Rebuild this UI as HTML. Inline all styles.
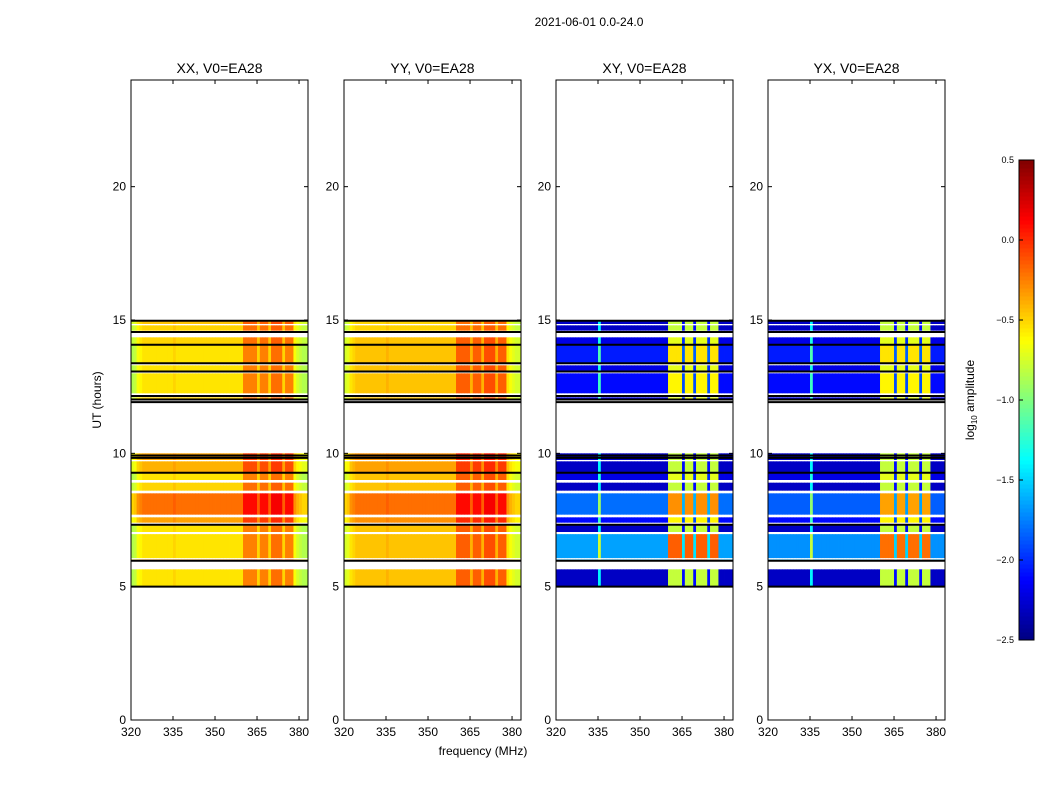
<!DOCTYPE html>
<html><head><meta charset="utf-8"><style>
body{margin:0;background:#fff;}
svg{display:block;font-family:"Liberation Sans",sans-serif;}
</style></head><body>
<svg id="fig" width="1050" height="800" viewBox="0 0 1050 800">
<rect width="1050" height="800" fill="#fff"/>
<text x="589" y="26" font-size="12" text-anchor="middle">2021-06-01 0.0-24.0</text>
<text x="483" y="755" font-size="12" text-anchor="middle">frequency (MHz)</text>
<text x="101" y="400" font-size="12" text-anchor="middle" transform="rotate(-90 101 400)">UT (hours)</text>
<g id="panels"></g>
<g id="cbar"></g>
<text x="974" y="400" font-size="12" text-anchor="middle" transform="rotate(-90 974 400)">log<tspan font-size="8" dy="3">10</tspan><tspan dy="-3"> amplitude</tspan></text>
</svg>
<script>
// ---- data ----
const panelTitles = ["XX, V0=EA28","YY, V0=EA28","XY, V0=EA28","YX, V0=EA28"];
const xTicks = [320,335,350,365,380];
const yTicks = [0,5,10,15,20];
const cbarTicks = [0.5,0.0,-0.5,-1.0,-1.5,-2.0,-2.5];
const bandStart = [5.0, 5.95, 6.07, 7.05, 7.4, 7.7, 8.6, 9.0, 9.3, 9.75, 12.0, 12.25, 13.05, 13.4, 14.1, 14.6, 14.85];
const bandEnd   = [5.65,6.02, 6.97, 7.3, 7.6, 8.5, 8.9, 9.25, 9.7, 10.0, 12.1, 13.0, 13.3, 14.05, 14.35, 14.8, 15.0];
const levelXX   = [-0.55,-0.3,-0.55,-0.55,-0.35,-0.2,-0.5,-0.55,-0.4,-0.35,-0.5,-0.55,-0.55,-0.55,-0.5,-0.5,-0.45];
const levelYY   = [-0.45,-0.3,-0.45,-0.45,-0.3,-0.2,-0.45,-0.45,-0.35,-0.3,-0.45,-0.45,-0.45,-0.45,-0.45,-0.5,-0.5];
const levelXY   = [-2.3,-1.6,-1.65,-2.3,-2.1,-1.8,-2.3,-2.2,-2.3,-2.3,-2.2,-2.1,-2.2,-2.05,-2.2,-2.3,-2.3];
const levelYX   = [-2.3,-1.6,-1.7,-2.3,-2.1,-1.85,-2.3,-2.2,-2.3,-2.3,-2.2,-2.1,-2.2,-2.05,-2.2,-2.3,-2.3];
const freqs = [];
for (let f = 320; f <= 383; f++) freqs.push(f);
const autoOffset = [
 -0.3,-0.25,-0.1,-0.05,
 0,0,0,0,0,0,0,0,0,0,0,
 0.05,
 0,0,0,0,0,0,0,0,0,0,0,0,0,0,0,0,0,0,0,0,0,0,0,0,
 0.3,0.3,0.3,0.3,0.3,
 0.05,
 0.3,0.3,0.3,
 0.05,
 0.35,0.35,0.35,0.35,
 0.05,
 0.3,0.3,0.3,
 -0.1,-0.2,
 -0.25,-0.3,-0.3,-0.3];
const crossOffset = [
 0,0,0,0,
 0,0,0,0,0,0,0,0,0,0,0,
 0.9,
 0,0,0,0,0,0,0,0,0,0,0,0,0,0,0,0,0,0,0,0,0,0,0,0,
 1.5,1.5,1.5,1.5,1.5,
 0.2,
 1.5,1.5,1.5,
 0.2,
 1.5,1.5,1.5,1.5,
 0.2,
 1.5,1.5,1.5,
 0,0,
 0,0,0,0];
const blackLines = [5.0,5.97,7.32,9.27,9.83,9.92,11.92,12.02,12.15,13.07,13.38,14.07,14.55,14.97];
// ---- layout ----
const panelX = [131,344,556,768], panelW = 177, plotTop = 80, plotBottom = 720;
const yScale = h => plotBottom - (h/24)*(plotBottom-plotTop);
const xScale = (p,f) => panelX[p] + (f-320)/(383.2-320)*panelW;
function jet(v){
  let t = Math.max(0,Math.min(1,(v+2.5)/3));
  const r = Math.max(0,Math.min(1,1.5-Math.abs(4*t-3)));
  const g = Math.max(0,Math.min(1,1.5-Math.abs(4*t-2)));
  const b = Math.max(0,Math.min(1,1.5-Math.abs(4*t-1)));
  return `rgb(${Math.round(r*255)},${Math.round(g*255)},${Math.round(b*255)})`;
}
const NS = "http://www.w3.org/2000/svg";
function mk(tag, attrs, parent){const e=document.createElementNS(NS,tag);for(const k in attrs)e.setAttribute(k,attrs[k]);parent.appendChild(e);return e;}
const panelsG = document.getElementById('panels');
const levels = [levelXX, levelYY, levelXY, levelYX];
for (let p=0;p<4;p++){
  const g = mk('g',{},panelsG);
  
  
  const offs = p<2 ? autoOffset : crossOffset;
  for (let b=0;b<bandStart.length;b++){
    const y0 = yScale(bandEnd[b]), y1 = yScale(bandStart[b]);
    for (let i=0;i<freqs.length;i++){
      const x0 = xScale(p,freqs[i]), x1 = Math.min(xScale(p,freqs[i]+1), panelX[p]+panelW);
      if (x0 >= panelX[p]+panelW) continue;
      const c = mk('rect',{x:x0,y:y0,width:x1-x0+0.4,height:y1-y0,fill:jet(levels[p][b]+offs[i])},g);
      
      
    }
  }
  for (const h of blackLines){
    const l = mk('line',{x1:panelX[p],x2:panelX[p]+panelW,y1:yScale(h),y2:yScale(h),stroke:'#000','stroke-width':2},g);
    
    
  }
  const fr = mk('rect',{x:panelX[p],y:plotTop,width:panelW,height:plotBottom-plotTop,fill:'none',stroke:'#000','stroke-width':1},g);
  
  
  const t = mk('text',{x:panelX[p]+panelW/2,y:73,'font-size':14,'text-anchor':'middle'},g);
  t.textContent = panelTitles[p];
  
  
  for (const v of xTicks){
    const x = xScale(p,v);
    mk('line',{x1:x,x2:x,y1:plotBottom,y2:plotBottom-4,stroke:'#000'},g);
    mk('line',{x1:x,x2:x,y1:plotTop,y2:plotTop+4,stroke:'#000'},g);
    const tl = mk('text',{x:x,y:plotBottom+16,'font-size':12,'text-anchor':'middle'},g);
    tl.textContent = v;
    
    
  }
  for (const v of yTicks){
    const y = yScale(v);
    mk('line',{x1:panelX[p],x2:panelX[p]+4,y1:y,y2:y,stroke:'#000'},g);
    mk('line',{x1:panelX[p]+panelW,x2:panelX[p]+panelW-4,y1:y,y2:y,stroke:'#000'},g);
    const tl = mk('text',{x:panelX[p]-5,y:y+4,'font-size':12,'text-anchor':'end'},g);
    tl.textContent = v;
    
    
  }
}
// colorbar
const cb = document.getElementById('cbar');
const cbX=1019, cbW=15, cbTop=160, cbBot=640;
const cbY = v => cbBot - (v+2.5)/3*(cbBot-cbTop);
for (let i=0;i<120;i++){
  const v0 = -2.5 + i*3/120;
  mk('rect',{x:cbX,y:cbY(v0+3/120),width:cbW,height:(cbBot-cbTop)/120+0.5,fill:jet(v0+1.5/120)},cb);
}
mk('rect',{x:cbX,y:cbTop,width:cbW,height:cbBot-cbTop,fill:'none',stroke:'#000'},cb);
for (const v of cbarTicks){
  const y = cbY(v);
  mk('line',{x1:cbX,x2:cbX+4,y1:y,y2:y,stroke:'#000'},cb);
  const tl = mk('text',{x:cbX-5,y:y+3,'font-size':9,'text-anchor':'end'},cb);
  tl.textContent = v.toFixed(1).replace('-','\u2212');
  
  
}
</script>
</body></html>
